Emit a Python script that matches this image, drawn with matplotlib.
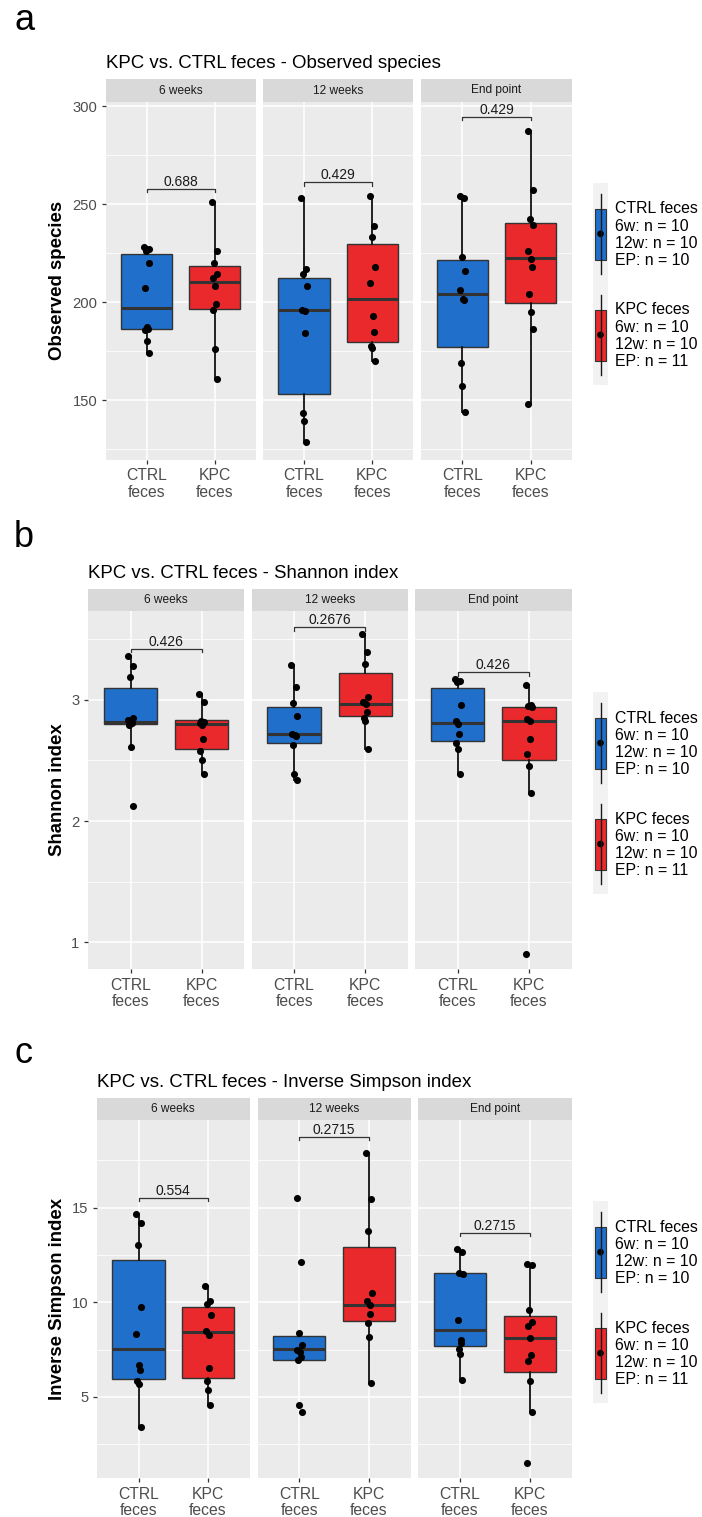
import matplotlib
matplotlib.use("Agg")
import matplotlib.pyplot as plt
from matplotlib.patches import Rectangle, Circle

plt.rcParams['font.family'] = ['Liberation Sans', 'DejaVu Sans']

# facet names and group labels
facets = ['6 weeks', '12 weeks', 'End point']
groups = ['CTRL\nfeces', 'KPC\nfeces']
timepoints = ['6w', '12w', 'EP']

# observed species, per facet
obs_ctrl = [[228.3, 227.3, 225.9, 220.0, 207.0, 187.2, 186.5, 186.0, 180.2, 173.9],
            [253.1, 217.1, 214.1, 208.1, 195.9, 195.4, 184.1, 143.4, 139.2, 128.5],
            [254.1, 252.9, 223.0, 216.0, 206.0, 201.4, 200.9, 169.1, 157.0, 143.9]]
obs_kpc = [[251.1, 226.0, 220.0, 214.1, 212.4, 208.2, 199.2, 196.2, 176.0, 161.0],
           [254.1, 238.9, 233.2, 218.0, 210.0, 193.0, 185.0, 177.6, 176.7, 169.9],
           [287.2, 257.0, 242.2, 239.1, 226.0, 222.1, 218.0, 203.9, 195.1, 186.1, 147.8]]
# box stats: whisker low, q1, median, q3, whisker high
obs_ctrl_box = [[173.9, 186.1, 197.1, 224.6, 228.3],
                [128.5, 153.4, 195.8, 212.4, 253.1],
                [143.9, 177.1, 204.3, 221.3, 254.1]]
obs_kpc_box = [[161.0, 196.6, 210.3, 218.6, 251.1],
               [169.9, 179.8, 201.7, 229.4, 254.1],
               [147.8, 199.5, 222.3, 240.6, 287.2]]
obs_bracket = [257.9, 261.2, 294.5]
obs_pval = ['0.688', '0.429', '0.429']

# Shannon index
sha_ctrl = [[3.364, 3.281, 3.187, 2.848, 2.835, 2.829, 2.807, 2.793, 2.609, 2.124],
            [3.284, 3.110, 2.972, 2.871, 2.719, 2.711, 2.702, 2.628, 2.386, 2.339],
            [3.171, 3.160, 3.146, 2.959, 2.824, 2.799, 2.719, 2.647, 2.592, 2.386]]
sha_kpc = [[3.050, 2.983, 2.829, 2.820, 2.807, 2.793, 2.678, 2.579, 2.504, 2.386],
           [3.540, 3.399, 3.295, 3.028, 2.980, 2.967, 2.904, 2.854, 2.829, 2.595],
           [3.121, 2.959, 2.950, 2.939, 2.843, 2.829, 2.678, 2.551, 2.452, 2.229, 0.906]]
sha_ctrl_box = [[2.609, 2.802, 2.818, 3.096, 3.364],
                [2.339, 2.647, 2.722, 2.942, 3.284],
                [2.386, 2.664, 2.807, 3.096, 3.171]]
sha_kpc_box = [[2.386, 2.592, 2.799, 2.832, 3.050],
               [2.595, 2.865, 2.967, 3.226, 3.540],
               [2.229, 2.501, 2.829, 2.942, 3.121]]
sha_bracket = [3.421, 3.601, 3.229]
sha_pval = ['0.426', '0.2676', '0.426']

# inverse Simpson index
inv_ctrl = [[14.69, 14.18, 13.05, 9.74, 8.34, 6.67, 6.45, 5.82, 5.70, 3.39],
            [15.54, 12.13, 8.38, 7.72, 7.50, 7.37, 7.11, 6.93, 4.60, 4.20],
            [12.84, 12.66, 11.57, 11.52, 9.05, 8.02, 7.87, 7.55, 7.28, 5.87]]
inv_kpc = [[10.86, 10.05, 9.89, 9.31, 8.47, 8.29, 6.53, 5.82, 5.38, 4.59],
           [17.92, 15.45, 13.77, 10.51, 10.05, 9.84, 9.40, 8.92, 8.15, 5.73],
           [12.05, 12.00, 9.58, 8.96, 8.73, 8.13, 7.20, 6.88, 5.82, 4.20, 1.50]]
inv_ctrl_box = [[3.39, 5.93, 7.51, 12.24, 14.69],
                [6.93, 6.93, 7.51, 8.20, 8.38],
                [5.87, 7.67, 8.55, 11.57, 12.84]]
inv_kpc_box = [[4.59, 5.98, 8.43, 9.75, 10.86],
               [5.73, 9.01, 9.84, 12.93, 17.92],
               [4.20, 6.33, 8.13, 9.26, 12.05]]
inv_bracket = [15.54, 18.75, 13.69]
inv_pval = ['0.554', '0.2715', '0.2715']

BLUE = '#1F6FCB'
RED = '#E9292B'
W, H = 702, 1517
jit = [-0.04, 0.03, -0.01, 0.04, -0.03, 0.01, 0.02, -0.02, 0.0, 0.035, -0.035]

fig = plt.figure(figsize=(W / 100, H / 100), dpi=100)
over = fig.add_axes([0, 0, 1, 1], zorder=10)
over.set_xlim(0, W)
over.set_ylim(H, 0)
over.axis('off')
over.patch.set_alpha(0)


def px_rect(x0, x1, y0, y1):
    return [x0 / W, 1 - y1 / H, (x1 - x0) / W, (y1 - y0) / H]


def stats(b):
    return dict(whislo=b[0], q1=b[1], med=b[2], q3=b[3], whishi=b[4], fliers=[])


def draw_panel(letter, letter_y, title, ylabel, cols, strip_top, top, bottom,
               ylim, major, minor, ctrl, kpc, ctrl_box, kpc_box, bracket, pvals):
    over.text(14, letter_y, letter, fontsize=26, va='baseline')
    over.text(cols[0][0], strip_top - 11, title, fontsize=13.4, va='baseline')
    over.text(58, (top + bottom) / 2, ylabel, fontsize=13.4, fontweight='bold',
              rotation=90, ha='center', va='center')
    tip = 3.6 * (ylim[1] - ylim[0]) / (bottom - top)
    for i, (x0, x1) in enumerate(cols):
        st = fig.add_axes(px_rect(x0, x1, strip_top, top))
        st.set_facecolor('#D9D9D9')
        st.set_xticks([])
        st.set_yticks([])
        for s in st.spines.values():
            s.set_visible(False)
        st.text(0.5, 0.5, facets[i], transform=st.transAxes, ha='center',
                va='center', fontsize=8.6, color='#1A1A1A')

        ax = fig.add_axes(px_rect(x0, x1, top, bottom))
        ax.set_facecolor('#EBEBEB')
        for s in ax.spines.values():
            s.set_visible(False)

        for pos, vals, box, col in [(1, ctrl[i], ctrl_box[i], BLUE),
                                    (2, kpc[i], kpc_box[i], RED)]:
            ax.bxp([stats(box)], positions=[pos], widths=0.75, patch_artist=True,
                   showfliers=False, showcaps=False, manage_ticks=False,
                   boxprops=dict(facecolor=col, edgecolor='#333333', lw=1.0),
                   medianprops=dict(color='#333333', lw=2.2),
                   whiskerprops=dict(color='#111111', lw=1.3))
            xs = [pos + jit[k % len(jit)] for k in range(len(vals))]
            ax.scatter(xs, vals, s=26, color='black', zorder=5, lw=0)

        yb = bracket[i]
        ax.plot([1, 1, 2, 2], [yb - tip, yb, yb, yb - tip], color='#333333', lw=0.9)
        ax.annotate(pvals[i], (1.5, yb), xytext=(0, 2), textcoords='offset points',
                    ha='center', va='baseline', fontsize=10, color='#1A1A1A')

        ax.set_xlim(0.4, 2.6)
        ax.set_ylim(*ylim)
        ax.set_yticks(major)
        ax.set_yticks(minor, minor=True)
        ax.set_xticks([1, 2])
        ax.set_xticklabels(groups, linespacing=1.15)
        ax.grid(which='major', color='white', lw=1.1)
        ax.grid(which='minor', axis='y', color='white', lw=0.55)
        ax.set_axisbelow(True)
        ax.tick_params(which='major', length=3, width=0.9, color='#333333',
                       labelcolor='#4D4D4D', pad=3)
        ax.tick_params(axis='x', labelsize=11.3)
        ax.tick_params(axis='y', labelsize=10.6)
        ax.tick_params(which='minor', length=0)
        if i > 0:
            ax.tick_params(axis='y', left=False, labelleft=False)

    # legend with boxplot keys
    T = (top + bottom) / 2 - 98
    over.add_patch(Rectangle((593.3, T), 15, 202, facecolor='#F2F2F2', lw=0))
    for k, (col, name, data) in enumerate([(BLUE, 'CTRL feces', ctrl),
                                           (RED, 'KPC feces', kpc)]):
        y0 = T + 101 * k
        over.plot([600.5, 600.5], [y0 + 11, y0 + 91], color='#1A1A1A', lw=1)
        over.add_patch(Rectangle((594.7, y0 + 26), 11.3, 51, facecolor=col,
                                 edgecolor='#333333', lw=0.8))
        over.add_patch(Circle((600.5, y0 + 51), 2.6, color='black'))
        lines = [name] + ['%s: n = %d' % (t, len(d)) for t, d in zip(timepoints, data)]
        for j, txt in enumerate(lines):
            over.text(615, y0 + 26 + 17.2 * j, txt, fontsize=11.4, va='center')


draw_panel('a', 30, 'KPC vs. CTRL feces - Observed species', 'Observed species',
           [(105.8, 255.5), (263.1, 413.3), (421.3, 571.5)], 79.3, 101.7, 460,
           (119.5, 302.2), [150, 200, 250, 300], [125, 175, 225, 275],
           obs_ctrl, obs_kpc, obs_ctrl_box, obs_kpc_box, obs_bracket, obs_pval)
draw_panel('b', 547, 'KPC vs. CTRL feces - Shannon index', 'Shannon index',
           [(87.9, 244.3), (251.5, 407.9), (415.1, 571.5)], 589.3, 610.7, 969.3,
           (0.777, 3.736), [1, 2, 3], [1.5, 2.5, 3.5],
           sha_ctrl, sha_kpc, sha_ctrl_box, sha_kpc_box, sha_bracket, sha_pval)
draw_panel('c', 1063, 'KPC vs. CTRL feces - Inverse Simpson index', 'Inverse Simpson index',
           [(96.8, 249.7), (257.7, 410.6), (418.2, 571.5)], 1098, 1120, 1478.3,
           (0.70, 19.64), [5, 10, 15], [2.5, 7.5, 12.5, 17.5],
           inv_ctrl, inv_kpc, inv_ctrl_box, inv_kpc_box, inv_bracket, inv_pval)

fig.savefig('out.png', dpi=100)
